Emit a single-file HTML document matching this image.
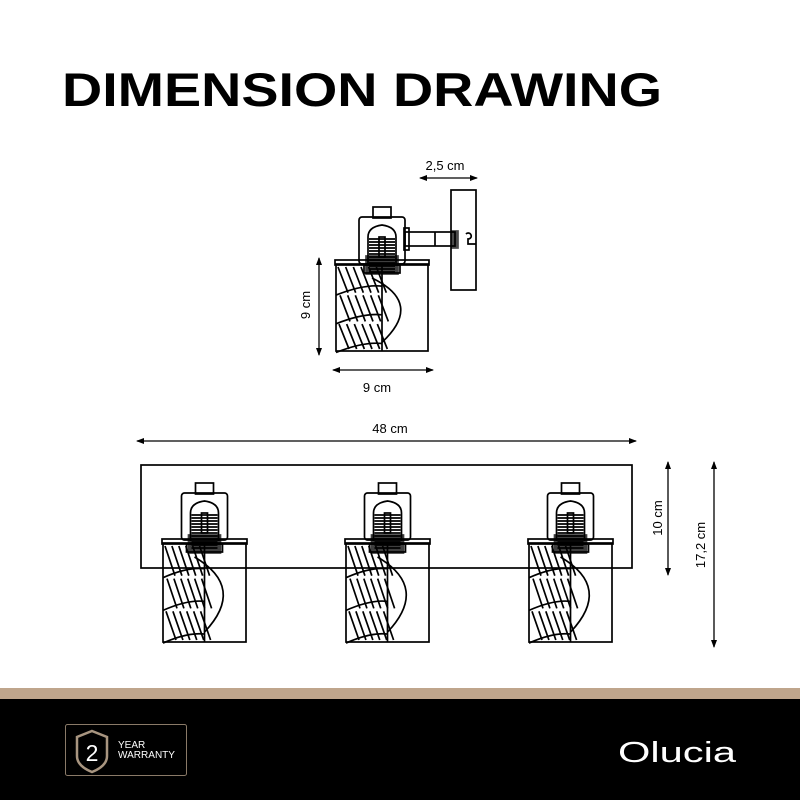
<!DOCTYPE html>
<html><head><meta charset="utf-8">
<style>
html,body{margin:0;padding:0;background:#fff;}
body{width:800px;height:800px;position:relative;overflow:hidden;font-family:"Liberation Sans",sans-serif;}
svg{position:absolute;left:0;top:0;}
</style></head>
<body>
<svg id="s" width="800" height="800" viewBox="0 0 800 800" xmlns="http://www.w3.org/2000/svg">
<defs>
<marker id="a" markerWidth="8" markerHeight="6" refX="7" refY="3" orient="auto-start-reverse" markerUnits="userSpaceOnUse">
<path d="M0,0 L8,3 L0,6 z" fill="#000"/></marker>
</defs>
<text x="62" y="106" font-size="47" font-weight="bold" textLength="600" lengthAdjust="spacingAndGlyphs" fill="#000">DIMENSION DRAWING</text>

<g id="draw" fill="none" stroke="#000" stroke-width="1.7"></g>

<g font-size="13" fill="#000">
<text x="445" y="170" text-anchor="middle">2,5 cm</text>
<text x="377" y="392" text-anchor="middle">9 cm</text>
<text x="390" y="433" text-anchor="middle">48 cm</text>
<text transform="translate(310,305) rotate(-90)" text-anchor="middle">9 cm</text>
<text transform="translate(662,518) rotate(-90)" text-anchor="middle">10 cm</text>
<text transform="translate(705,545) rotate(-90)" text-anchor="middle">17,2 cm</text>
</g>
<g stroke="#000" stroke-width="1.3" marker-start="url(#a)" marker-end="url(#a)">
<line x1="420" y1="178" x2="477" y2="178"/>
<line x1="319" y1="258" x2="319" y2="355"/>
<line x1="333" y1="370" x2="433" y2="370"/>
<line x1="137" y1="441" x2="636" y2="441"/>
<line x1="668" y1="462" x2="668" y2="575"/>
<line x1="714" y1="462" x2="714" y2="647"/>
</g>

<rect x="0" y="688" width="800" height="11" fill="#bfa58c"/>
<rect x="0" y="699" width="800" height="101" fill="#000"/>
<rect x="65.5" y="724.5" width="121" height="51" rx="2" fill="none" stroke="#8a7a68" stroke-width="1"/>
<path d="M92,731 L107,737 L107,756 Q107,766 92,772 Q77,766 77,756 L77,737 Z" fill="none" stroke="#a89580" stroke-width="2.5"/>
<text x="92" y="761" font-size="23" fill="#fff" text-anchor="middle">2</text>
<text x="118" y="748" font-size="10" fill="#fff">YEAR</text>
<text x="118" y="758" font-size="10" fill="#fff" textLength="57" lengthAdjust="spacingAndGlyphs">WARRANTY</text>
<text x="618" y="762" font-size="29" fill="#fff" textLength="118" lengthAdjust="spacingAndGlyphs">Olucia</text>
</svg>
<script>
var g=document.getElementById('draw');var h='';
function L(x1,y1,x2,y2){h+='<line x1="'+x1+'" y1="'+y1+'" x2="'+x2+'" y2="'+y2+'"/>';}
function R(x,y,w,hh,r){h+='<rect x="'+x+'" y="'+y+'" width="'+w+'" height="'+hh+'" rx="'+(r||0)+'"/>';}
function P(d,extra){h+='<path d="'+d+'" '+(extra||'')+'/>';}
function lamp(sx,sy,sw,sh,by){
 var cx=sx+sw/2;
 R(cx-9,by-10,18,11);
 R(cx-23,by,46,47,3);
 P('M'+(cx-14)+','+(by+48)+' L'+(cx-14)+','+(by+20)+' Q'+(cx-14)+','+(by+10)+' '+cx+','+(by+8)+' Q'+(cx+14)+','+(by+10)+' '+(cx+14)+','+(by+20)+' L'+(cx+14)+','+(by+48));
 for(var i=0;i<12;i++){L(cx-13,by+22+i*3,cx+13,by+22+i*3);}
 R(cx-3,by+20,6,20);
 R(sx-1,sy-4,sw+2,5);
 R(sx,sy,sw,sh);
 h+='<rect x="'+(cx-16)+'" y="'+(sy-8)+'" width="32" height="'+18+'" fill="#000" opacity="0.75"/>';
 R(cx-18,sy+1,36,8);
 L(cx,sy,cx,sy+sh);
 P('M'+(cx-10)+','+(sy+14)+' Q'+(cx+42)+','+(sy+sh*0.45)+' '+cx+','+(sy+sh*0.9));
 var lw=sw/2;
 for(var k=0;k<6;k++){
  var x0=sx+2+k*lw/6;
  L(x0,sy+3,x0+10,sy+sh*0.33);
  L(x0+2,sy+sh*0.36,x0+12,sy+sh*0.66);
  L(x0+1,sy+sh*0.69,x0+11,sy+sh-2);
 }
 for(var m=0;m<3;m++){
  var yy=sy+sh*(0.3+m*0.33);
  P('M'+sx+','+(yy+5)+' Q'+(sx+lw*0.6)+','+(yy-6)+' '+cx+','+(yy-4));
 }
}
lamp(336,264,92,87,217);
R(451,190,25,100);
R(405,232,50,14);
R(404,228,5,22);
L(435,232,435,246);
h+='<rect x="452" y="231" width="6" height="17" fill="#000" opacity="0.7"/>';
P('M466,234 a3,3 0 1 1 2,5 l0,5 l8,0');
R(141,465,491,103);
lamp(163,543,83,99,493);
lamp(346,543,83,99,493);
lamp(529,543,83,99,493);
g.innerHTML=h;
</script>
</body></html>
